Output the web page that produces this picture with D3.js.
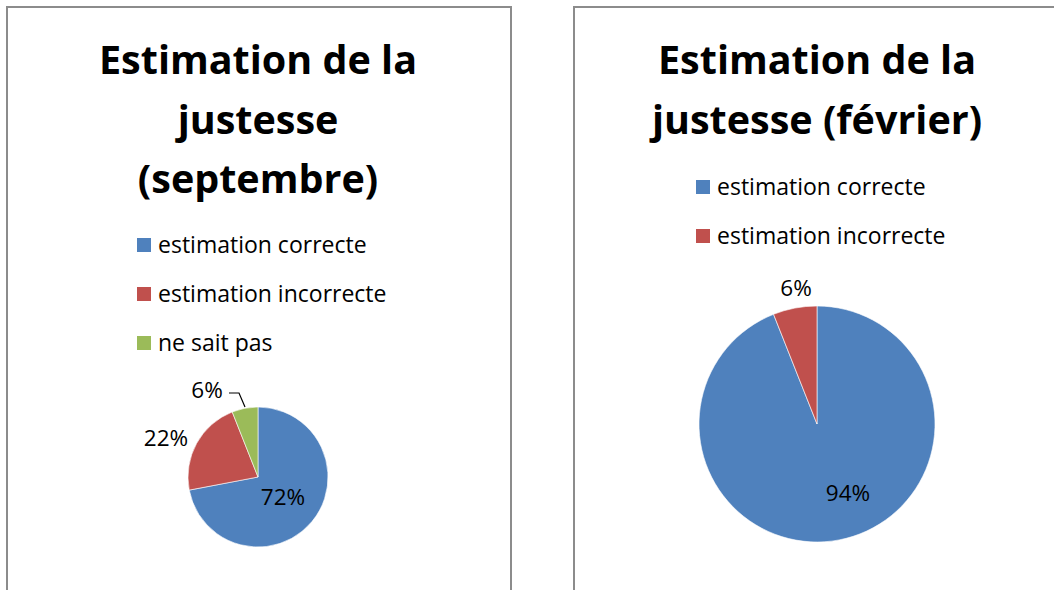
<!DOCTYPE html>
<html>
<head>
<meta charset="utf-8">
<script src="https://cdn.jsdelivr.net/npm/d3@7"></script>
<style>
  body { margin: 0; background: #fff; }
  svg { display: block; font-family: "Open Sans", Lato, sans-serif; }
</style>
</head>
<body>
<svg width="1054" height="590"></svg>
<script>
// data
const sepCategories = ["estimation correcte", "estimation incorrecte", "ne sait pas"];
const sepValues = [72, 22, 6];
const febCategories = ["estimation correcte", "estimation incorrecte"];
const febValues = [94, 6];
const colors = ["#4f81bd", "#c0504d", "#9bbb59"];

const svg = d3.select("svg");

// panel borders
svg.append("rect").attr("x", 7).attr("y", 7).attr("width", 504).attr("height", 600)
  .attr("fill", "none").attr("stroke", "#8c8c8c").attr("stroke-width", 2);
svg.append("rect").attr("x", 574).attr("y", 7).attr("width", 500).attr("height", 600)
  .attr("fill", "none").attr("stroke", "#8c8c8c").attr("stroke-width", 2);

const pie = d3.pie().sort(null).value(d => d);

const drawChart = (opts) => {
  const g = svg.append("g");

  // title
  opts.title.forEach((line, i) => {
    g.append("text").attr("x", opts.cx).attr("y", opts.titleY + i * 59.5)
      .attr("text-anchor", "middle").attr("font-size", 39.5).attr("font-weight", "bold")
      .attr("fill", "#000").text(line);
  });

  // legend
  opts.categories.forEach((c, i) => {
    const y = opts.legendY + i * 49;
    g.append("rect").attr("x", opts.legendX).attr("y", y - 7).attr("width", 14).attr("height", 14)
      .attr("fill", colors[i]);
    g.append("text").attr("x", opts.legendX + 21).attr("y", y + 7.5)
      .attr("font-size", 23).attr("fill", "#000").text(c);
  });

  // pie
  const arcs = pie(opts.values);
  const arc = d3.arc().innerRadius(0).outerRadius(opts.r);
  const pg = g.append("g").attr("transform", `translate(${opts.pieX},${opts.pieY})`);
  pg.selectAll("path").data(arcs).enter().append("path")
    .attr("d", arc)
    .attr("fill", (d, i) => colors[i])
    .attr("stroke", "#fff").attr("stroke-width", 0.6);

  opts.labels.forEach((lb, i) => {
    pg.append("text").attr("x", lb[0]).attr("y", lb[1] + 8)
      .attr("text-anchor", "middle").attr("font-size", 22.5).attr("fill", "#000")
      .text(opts.values[i] + "%");
  });
  if (opts.leader) {
    pg.append("path").attr("d", d3.line()(opts.leader))
      .attr("fill", "none").attr("stroke", "#000").attr("stroke-width", 1.2);
  }
};

drawChart({
  cx: 258, titleY: 74,
  title: ["Estimation de la", "justesse", "(septembre)"],
  categories: sepCategories, values: sepValues,
  legendX: 137, legendY: 245,
  pieX: 258, pieY: 477, r: 70,
  labels: [[25, 20], [-92, -39], [-51, -87]],
  leader: [[-29, -84], [-19, -84], [-13, -70]]
});

drawChart({
  cx: 817, titleY: 74,
  title: ["Estimation de la", "justesse (février)"],
  categories: febCategories, values: febValues,
  legendX: 696, legendY: 187,
  pieX: 817, pieY: 424, r: 118,
  labels: [[31, 69], [-21, -136]]
});
</script>
</body>
</html>
